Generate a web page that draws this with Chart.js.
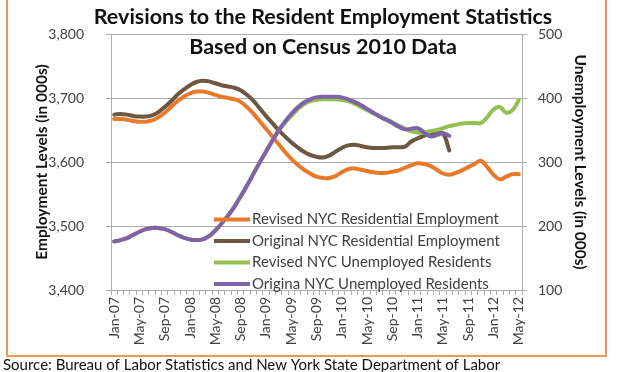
<!DOCTYPE html>
<html>
<head>
<meta charset="utf-8">
<script src="https://cdn.jsdelivr.net/npm/chart.js@4.4.1/dist/chart.umd.min.js"></script>
<style>
html,body{margin:0;padding:0;background:#fff;}
#wrap{width:620px;height:372px;position:relative;}
</style>
</head>
<body>
<div id="wrap"><canvas id="c" width="620" height="372"></canvas></div>
<script>
// ---- data ----
const months = [
 "Jan-07","Feb-07","Mar-07","Apr-07","May-07","Jun-07","Jul-07","Aug-07","Sep-07","Oct-07","Nov-07","Dec-07",
 "Jan-08","Feb-08","Mar-08","Apr-08","May-08","Jun-08","Jul-08","Aug-08","Sep-08","Oct-08","Nov-08","Dec-08",
 "Jan-09","Feb-09","Mar-09","Apr-09","May-09","Jun-09","Jul-09","Aug-09","Sep-09","Oct-09","Nov-09","Dec-09",
 "Jan-10","Feb-10","Mar-10","Apr-10","May-10","Jun-10","Jul-10","Aug-10","Sep-10","Oct-10","Nov-10","Dec-10",
 "Jan-11","Feb-11","Mar-11","Apr-11","May-11","Jun-11","Jul-11","Aug-11","Sep-11","Oct-11","Nov-11","Dec-11",
 "Jan-12","Feb-12","Mar-12","Apr-12","May-12"
];
const revisedEmployment = [
 3667,3667,3666,3664,3663,3663,3665,3670,3677,3686,3695,3702,
 3707,3710,3710,3708,3705,3702,3700,3698,3694,3686,3676,3664,
 3652,3640,3628,3616,3605,3596,3588,3582,3577,3575,3575,3578,
 3584,3589,3590,3588,3586,3584,3583,3583,3585,3587,3591,3595,
 3598,3597,3594,3588,3582,3580,3583,3587,3592,3597,3602,3592,
 3580,3573,3577,3581,3581
];
const originalEmployment = [
 3674,3675,3674,3672,3671,3671,3673,3678,3686,3695,3705,3713,
 3720,3725,3727,3726,3723,3720,3718,3716,3712,3705,3696,3684,
 3672,3661,3650,3640,3631,3623,3616,3611,3608,3607,3610,3616,
 3622,3626,3627,3625,3623,3622,3622,3622,3623,3623,3624,3632,
 3637,3641,3644,3645,3645,3618
];
const revisedUnemployed = [
 176,178,181,186,191,195,197,197,195,191,186,182,
 179,178,179,184,193,204,216,230,246,263,281,299,
 316,333,349,361,372,382,390,395,397,398,398,398,
 397,395,391,386,381,376,371,367,362,357,352,348,
 346,346,348,350,353,356,358,360,361,361,361,370,
 382,386,377,381,397
];
const originalUnemployed = [
 176,178,181,186,191,195,197,197,195,191,186,182,
 179,178,179,184,193,204,216,230,246,263,281,299,
 316,333,349,363,375,385,393,398,401,402,402,402,
 401,398,394,389,383,377,371,366,361,355,351,352,
 353,346,340,342,345,341
];
const seriesNames = [
 "Revised NYC Residential Employment",
 "Original NYC Residential Employment",
 "Revised NYC Unemployed Residents",
 "Origina NYC Unemployed Residents"
];
const leftTicks = [3400, 3500, 3600, 3700, 3800];
const rightTicks = [100, 200, 300, 400, 500];
const titleLines = ["Revisions to the Resident Employment Statistics", "Based on Census 2010 Data"];
const leftAxisTitle = "Employment Levels (in 000s)";
const rightAxisTitle = "Unemployment Levels (in 000s)";
const sourceText = "Source: Bureau of Labor Statistics and New York State Department of Labor";

// ---- styles ----
const colors = ["#E8792A", "#6E5741", "#93C052", "#7F62A8"];
const FONT = "Lato, 'Open Sans', sans-serif";
const textColor = "#404040";
const gridColor = "#ADADAD";
const PAD_L = 33, PAD_R = 31;

const decor = {
  id: "decor",
  beforeDraw(chart) {
    const ctx = chart.ctx;
    ctx.save();
    ctx.fillStyle = "#fff";
    ctx.fillRect(0, 0, chart.width, chart.height);
    ctx.restore();
  },
  afterDraw(chart) {
    const ctx = chart.ctx;
    ctx.save();
    // border
    ctx.strokeStyle = "#E9975A";
    ctx.lineWidth = 2;
    ctx.strokeRect(7, -5, 599, 361);
    // titles
    ctx.fillStyle = "#111";
    ctx.textAlign = "center";
    ctx.textBaseline = "middle";
    ctx.font = "bold 21.5px " + FONT;
    ctx.fillText(titleLines[0], 323, 17);
    ctx.fillText(titleLines[1], 323, 47);
    // source
    ctx.textAlign = "left";
    ctx.font = "15px " + FONT;
    ctx.fillStyle = "#111";
    ctx.fillText(sourceText, 3, 365);
    // legend
    ctx.font = "15px " + FONT;
    chart.data.datasets.forEach((ds, i) => {
      const y = 219.5 + i * 21.5;
      ctx.strokeStyle = ds.borderColor;
      ctx.lineWidth = 4;
      ctx.beginPath();
      ctx.moveTo(214, y);
      ctx.lineTo(250, y);
      ctx.stroke();
      ctx.fillStyle = textColor;
      ctx.fillText(ds.label, 252, y);
    });
    ctx.restore();
  }
};

const makeDs = (label, data, color, axis, order) => ({
  label, data, borderColor: color, backgroundColor: color,
  borderWidth: 4, pointRadius: 0, tension: 0.4, fill: false,
  yAxisID: axis, order, borderCapStyle: "round", borderJoinStyle: "round"
});

new Chart(document.getElementById("c"), {
  type: "line",
  data: {
    labels: months,
    datasets: [
      makeDs(seriesNames[0], revisedEmployment, colors[0], "y", 3),
      makeDs(seriesNames[1], originalEmployment, colors[1], "y", 2),
      makeDs(seriesNames[2], revisedUnemployed, colors[2], "y1", 1),
      makeDs(seriesNames[3], originalUnemployed, colors[3], "y1", 0)
    ]
  },
  options: {
    responsive: false,
    animation: false,
    events: [],
    layout: { padding: { left: PAD_L, right: PAD_R, top: 34, bottom: 0 } },
    plugins: { legend: { display: false }, title: { display: false }, tooltip: { enabled: false } },
    scales: {
      x: {
        type: "category",
        offset: true,
        afterFit: s => { s.height = 82; },
        grid: { display: true, drawOnChartArea: false, drawTicks: true, tickLength: 5, offset: true, color: gridColor },
        border: { display: true, color: gridColor },
        ticks: {
          autoSkip: false, maxRotation: 90, minRotation: 90, padding: 2,
          color: textColor, font: { family: FONT, size: 14 },
          callback: function(v, i) { return i % 4 === 0 ? months[i] : ""; }
        }
      },
      y: {
        position: "left",
        min: leftTicks[0], max: leftTicks[leftTicks.length - 1],
        afterFit: s => { s.width = 111 - PAD_L; },
        afterBuildTicks: s => { s.ticks = leftTicks.map(v => ({ value: v })); },
        grid: { color: gridColor, tickLength: 5 },
        border: { display: true, color: gridColor },
        ticks: {
          padding: 22, color: textColor, font: { family: FONT, size: 14 },
          callback: v => v.toLocaleString("en-US")
        },
        title: { display: true, text: leftAxisTitle, color: "#111", font: { family: FONT, size: 15.5, weight: "bold" }, padding: 0 }
      },
      y1: {
        position: "right",
        min: rightTicks[0], max: rightTicks[rightTicks.length - 1],
        afterFit: s => { s.width = 620 - 522 - PAD_R; },
        afterBuildTicks: s => { s.ticks = rightTicks.map(v => ({ value: v })); },
        grid: { drawOnChartArea: false, color: gridColor, tickLength: 5 },
        border: { display: true, color: gridColor },
        ticks: { padding: 11, color: textColor, font: { family: FONT, size: 14 } },
        title: { display: true, text: rightAxisTitle, color: "#111", font: { family: FONT, size: 15.5, weight: "bold" }, padding: 0 }
      }
    }
  },
  plugins: [decor]
});
</script>
</body>
</html>
